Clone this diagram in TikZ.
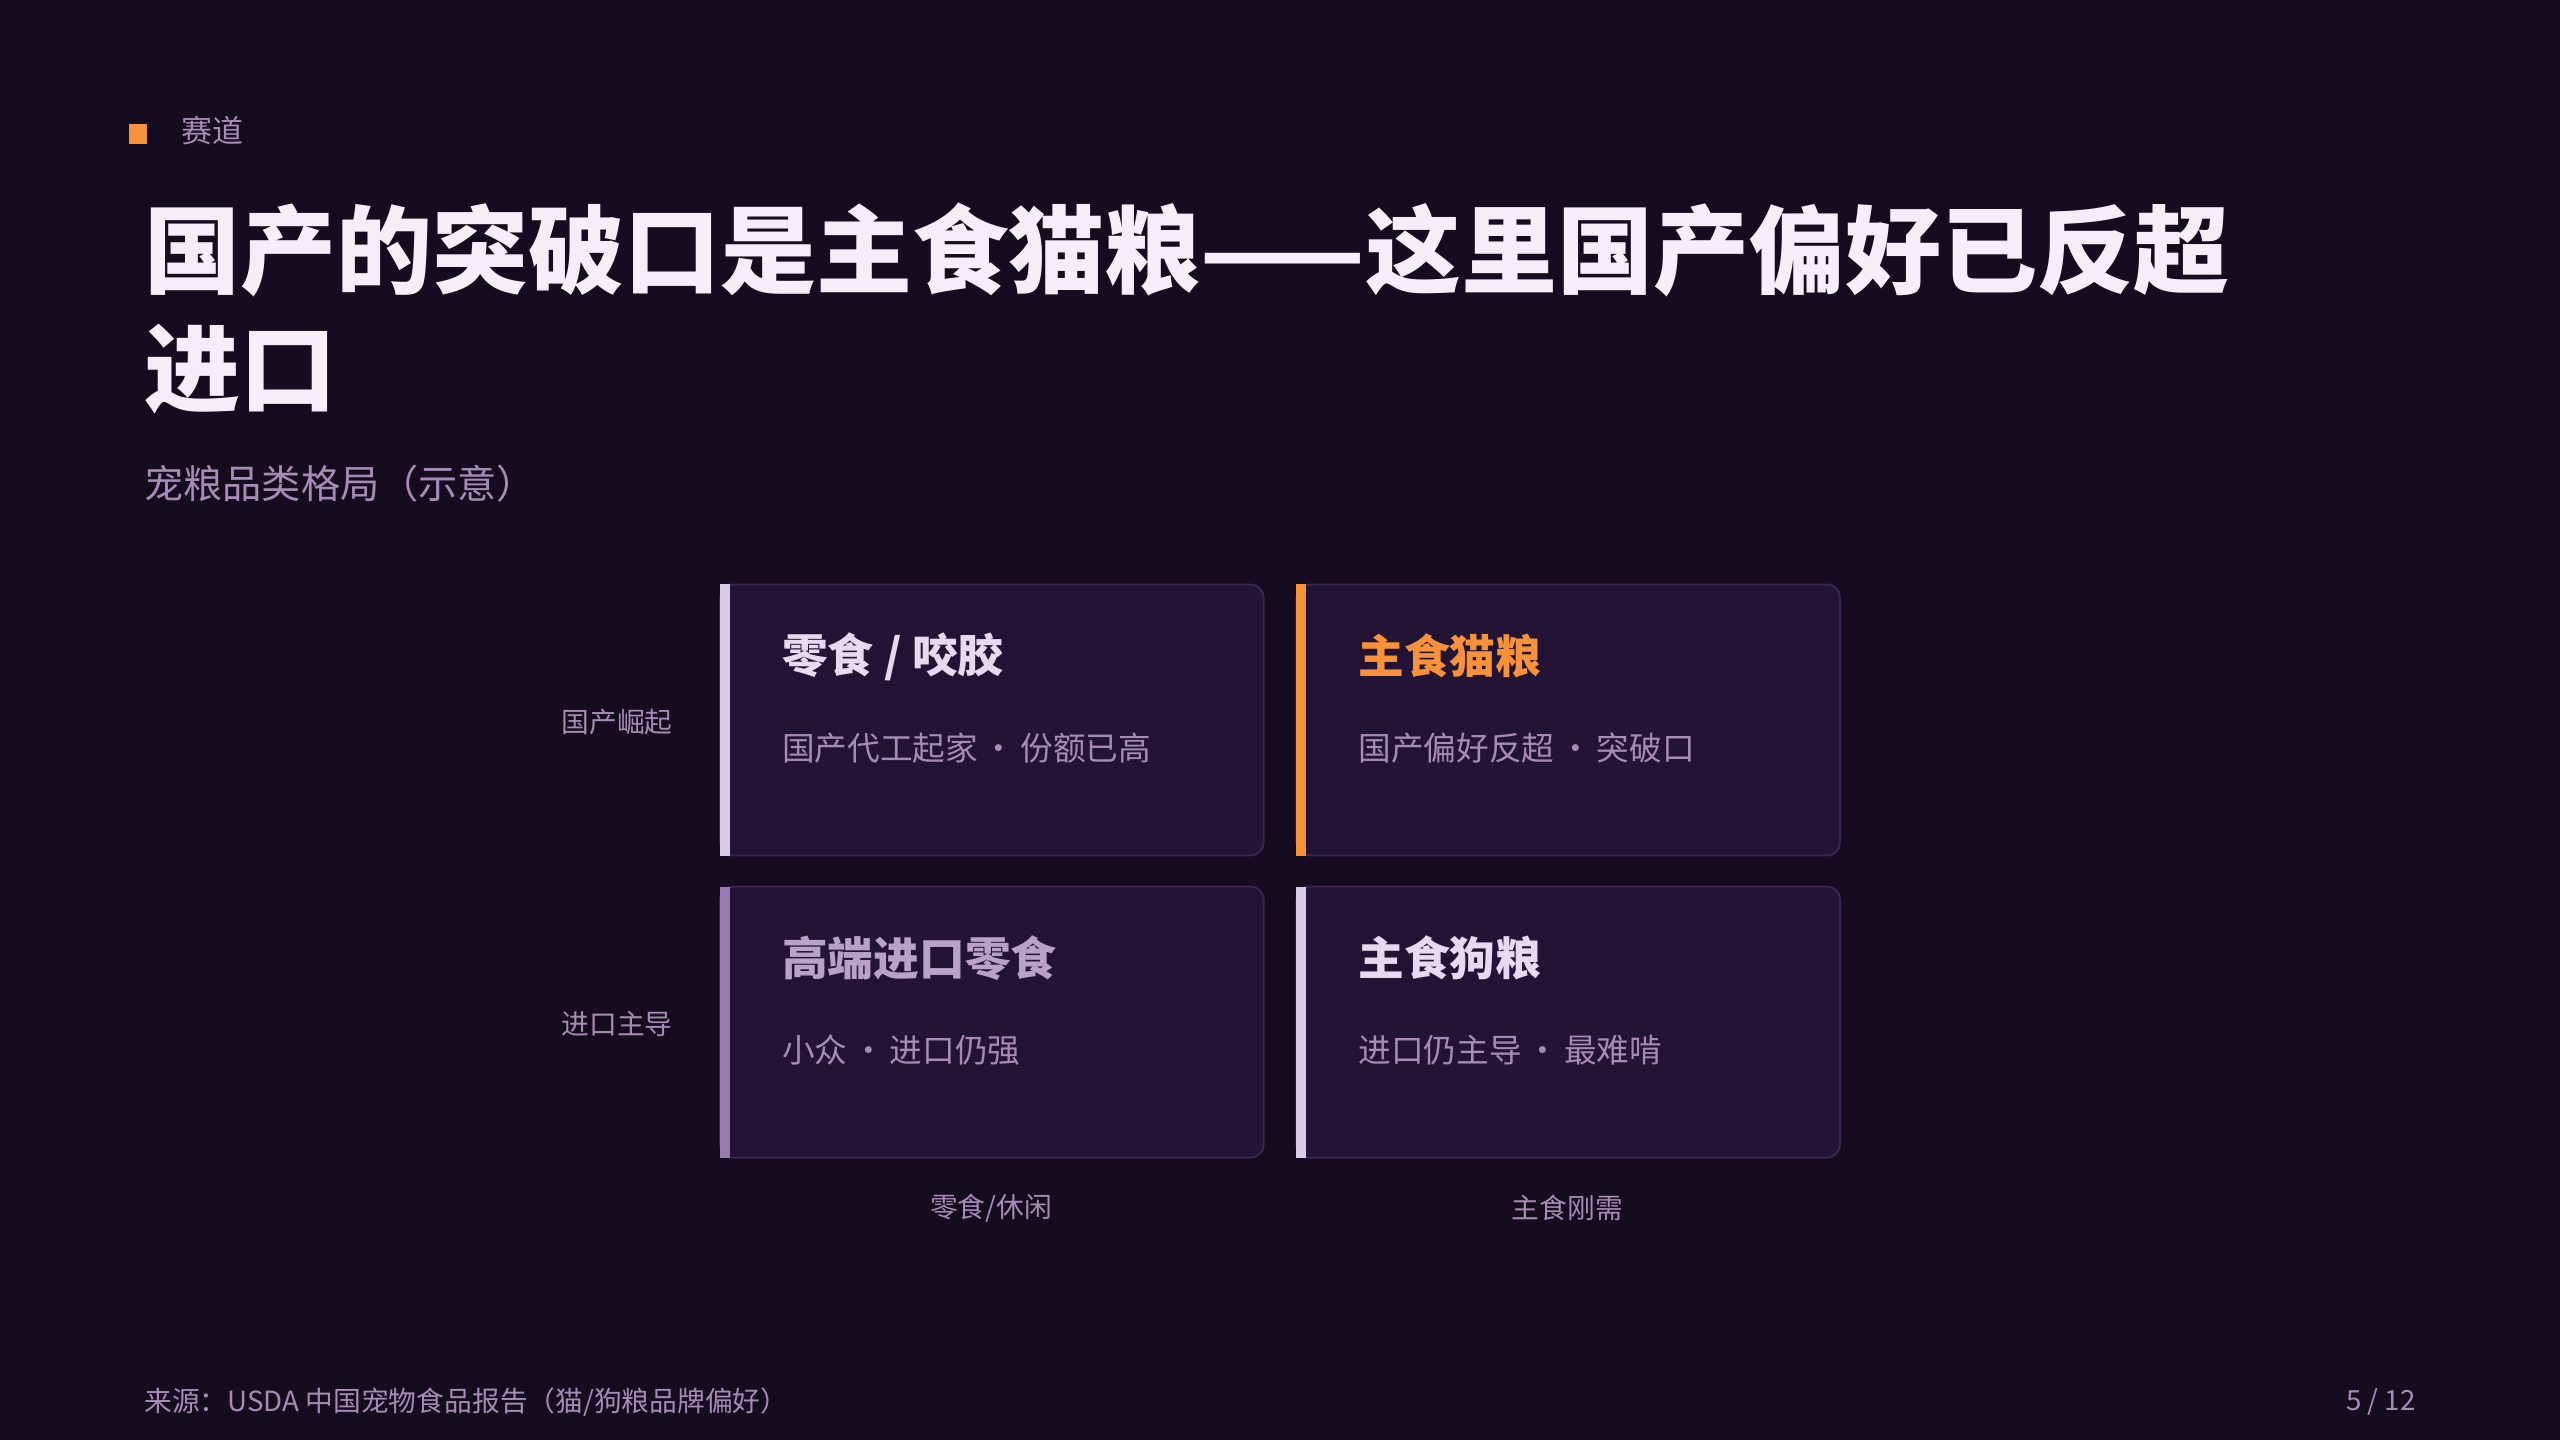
\documentclass[tikz,border=0pt]{standalone}
\usepackage{fontspec}
\setmainfont{Noto Sans CJK SC}
\definecolor{bg}{HTML}{160C1F}
\definecolor{card}{HTML}{231436}
\definecolor{cardb}{HTML}{3A2550}
\definecolor{lbar}{HTML}{DCCBE6}
\definecolor{obar}{HTML}{F7923A}
\definecolor{pbar}{HTML}{9A78B0}
\definecolor{ttl}{HTML}{E8D8F0}
\definecolor{sub}{HTML}{A58BB5}
\definecolor{white2}{HTML}{F5EEF8}
\newcommand{\mdot}{\kern1.5pt·\kern1.5pt}
\begin{document}
\begin{tikzpicture}[x=0.5pt,y=-0.5pt,
  cardbox/.style={fill=card,draw=cardb,line width=0.6pt,rounded corners=4pt},
  ctitle/.style={anchor=west,font=\bfseries\fontsize{14}{16}\selectfont},
  csub/.style={anchor=west,text=sub,font=\fontsize{10}{12}\selectfont},
  axis/.style={text=sub,font=\fontsize{8.5}{10}\selectfont}]
\fill[bg] (0,0) rectangle (1568,882);
\useasboundingbox (0,0) rectangle (1568,882);
\fill[obar] (79,76) rectangle (90,88);
\node[anchor=west,text=sub,font=\fontsize{9.5}{11}\selectfont] (kick) at (104,80) {赛道};
\node[anchor=north west,text=white2,font=\bfseries\fontsize{29.4}{36}\selectfont,align=left,inner sep=0] (title) at (88,124) {国产的突破口是主食猫粮——这里国产偏好已反超\\进口};
\node[anchor=west,text=sub,font=\fontsize{12}{14}\selectfont,inner sep=0] (subt) at (88,296) {宠粮品类格局（示意）};
\foreach \x/\y/\n in {441/358/a,794/358/b,441/543/c,794/543/d}{
  \draw[cardbox] (\x,\y) rectangle ++(333,166);
}
\fill[lbar] (441,358) rectangle (447,524);
\fill[obar] (794,358) rectangle (800,524);
\fill[pbar] (441,543) rectangle (447,709);
\fill[lbar] (794,543) rectangle (800,709);
\node[ctitle,text=ttl] (t1) at (472,402) {零食 / 咬胶};
\node[csub] (s1) at (472,458) {国产代工起家\mdot 份额已高};
\node[ctitle,text=obar] (t2) at (825,402) {主食猫粮};
\node[csub] (s2) at (825,458) {国产偏好反超\mdot 突破口};
\node[ctitle,text=sub!70!ttl] (t3) at (472,587) {高端进口零食};
\node[csub] (s3) at (472,643) {小众\mdot 进口仍强};
\node[ctitle,text=ttl] (t4) at (825,587) {主食狗粮};
\node[csub] (s4) at (825,643) {进口仍主导\mdot 最难啃};
\node[axis] (y1) at (378,442) {国产崛起};
\node[axis] (y2) at (378,627) {进口主导};
\node[axis] (x1) at (607,740) {零食/休闲};
\node[axis] (x2) at (960,740) {主食刚需};
\node[anchor=west,axis,inner sep=0] (src) at (88,859) {来源：USDA 中国宠物食品报告（猫/狗粮品牌偏好）};
\node[anchor=east,axis,inner sep=0] (pg) at (1480,859) {5 / 12};
\end{tikzpicture}
\end{document}
